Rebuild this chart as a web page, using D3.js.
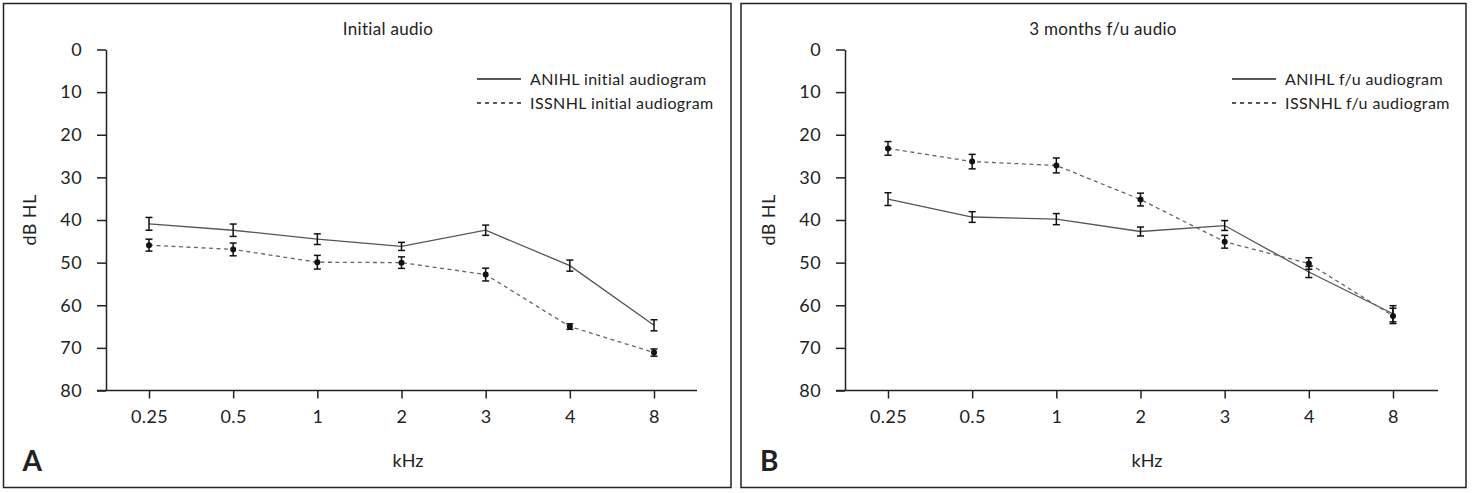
<!DOCTYPE html>
<html lang="en">
<head>
    <meta charset="UTF-8">
    <script src="https://d3js.org/d3.v7.min.js"></script>
    <title>Audiograms</title>
    <style>
        body { margin: 0; background: #fff; }
        text { font-family: Lato, "Open Sans", sans-serif; fill: #222; }
    </style>
</head>
<body>
    <script>
        // frequencies (kHz) and dB HL ticks
        var freqs = ["0.25", "0.5", "1", "2", "3", "4", "8"]
        var dbTicks = [0, 10, 20, 30, 40, 50, 60, 70, 80]

        // panel A - initial audio
        var aniInit = [40.9, 42.4, 44.5, 46.2, 42.4, 50.7, 64.7]
        var aniInitErr = [1.5, 1.45, 1.25, 0.95, 1.2, 1.3, 1.3]
        var issInit = [45.9, 46.9, 49.9, 50.0, 52.8, 65.0, 71.1]
        var issInitErr = [1.4, 1.5, 1.6, 1.35, 1.5, 0.65, 0.85]

        // panel B - 3 months f/u
        var aniFu = [35.1, 39.3, 39.8, 42.7, 41.3, 52.2, 62.0]
        var aniFuErr = [1.5, 1.25, 1.3, 1.05, 1.15, 1.3, 1.9]
        var issFu = [23.2, 26.3, 27.2, 35.2, 45.1, 50.2, 62.5]
        var issFuErr = [1.6, 1.7, 1.75, 1.5, 1.5, 1.35, 1.8]

        var svg = d3.select("body")
            .append("svg")
            .attr("width", 1473)
            .attr("height", 493)

        var panels = [
            {
                left: 3.5, right: 731, axisX: 106, x0: 97, x1: 697, first: 149, last: 654,
                title: "Initial audio", titleX: 388, letter: "A", kHzX: 408, dbX: 30,
                ani: aniInit, aniErr: aniInitErr, iss: issInit, issErr: issInitErr,
                legA: "ANIHL initial audiogram", legB: "ISSNHL initial audiogram", legX: 477
            },
            {
                left: 741, right: 1466, axisX: 845, x0: 836, x1: 1438, first: 888, last: 1393,
                title: "3 months f/u audio", titleX: 1103, letter: "B", kHzX: 1147, dbX: 769,
                ani: aniFu, aniErr: aniFuErr, iss: issFu, issErr: issFuErr,
                legA: "ANIHL f/u audiogram", legB: "ISSNHL f/u audiogram", legX: 1232
            }
        ]

        panels.forEach(function (p) {
            var g = svg.append("g")

            // border
            g.append("rect")
                .attr("x", p.left)
                .attr("y", 3.5)
                .attr("width", p.right - p.left)
                .attr("height", 484)
                .attr("fill", "none")
                .attr("stroke", "#222")
                .attr("stroke-width", 1.5)

            var x = d3.scalePoint()
                .domain(freqs)
                .range([p.first, p.last])
            var y = d3.scaleLinear()
                .domain([0, 80])
                .range([49.5, 390.5])

            // y axis
            var yAxis = g.append("g")
                .attr("transform", "translate(" + p.axisX + ",0)")
                .call(d3.axisLeft(y).tickValues(dbTicks).tickSize(9).tickPadding(15).tickSizeOuter(0))
            yAxis.selectAll("text").attr("font-size", "18px").attr("font-family", "Lato").attr("letter-spacing", "0.4px")
            yAxis.selectAll("line, path").attr("stroke", "#222").attr("stroke-width", 1.5)

            // x axis
            var xAxis = g.append("g")
                .attr("transform", "translate(0," + y(80) + ")")
                .call(d3.axisBottom(x).tickSize(8).tickPadding(12).tickSizeOuter(0))
            xAxis.select(".domain").remove()
            xAxis.selectAll("text").attr("font-size", "18px").attr("font-family", "Lato").attr("letter-spacing", "0.4px")
            xAxis.selectAll("line").attr("stroke", "#222").attr("stroke-width", 1.5)
            g.append("line")
                .attr("x1", p.x0).attr("x2", p.x1)
                .attr("y1", y(80)).attr("y2", y(80))
                .attr("stroke", "#222")
                .attr("stroke-width", 1.5)

            // titles
            g.append("text")
                .attr("x", p.titleX).attr("y", 35)
                .attr("text-anchor", "middle")
                .attr("font-size", "17px")
                .attr("letter-spacing", "0.3px")
                .text(p.title)
            g.append("text")
                .attr("x", p.kHzX).attr("y", 467)
                .attr("text-anchor", "middle")
                .attr("font-size", "18px")
                .text("kHz")
            g.append("text")
                .attr("transform", "translate(" + (p.dbX + 6) + "," + y(40) + ") rotate(-90)")
                .attr("text-anchor", "middle")
                .attr("font-size", "18px")
                .attr("letter-spacing", "0.4px")
                .text("dB HL")
            g.append("text")
                .attr("x", p.left + 19).attr("y", 471)
                .attr("font-family", "Liberation Sans, Arial, sans-serif")
                .attr("font-weight", "bold")
                .attr("font-size", "28px")
                .text(p.letter)

            // lines
            var line = d3.line()
                .x(function (d, i) { return x(freqs[i]) })
                .y(function (d) { return y(d) })

            g.append("path")
                .attr("d", line(p.ani))
                .attr("fill", "none")
                .attr("stroke", "#555")
                .attr("stroke-width", 1.3)
            g.append("path")
                .attr("d", line(p.iss))
                .attr("fill", "none")
                .attr("stroke", "#666")
                .attr("stroke-width", 1.3)
                .attr("stroke-dasharray", "4,3.5")

            // error bars
            function errBars(vals, errs) {
                var eb = g.append("g")
                    .selectAll("g")
                    .data(vals)
                    .enter()
                    .append("g")
                    .attr("stroke", "#111")
                    .attr("stroke-width", 1.5)
                eb.append("line")
                    .attr("x1", function (d, i) { return x(freqs[i]) })
                    .attr("x2", function (d, i) { return x(freqs[i]) })
                    .attr("y1", function (d, i) { return y(d - errs[i]) })
                    .attr("y2", function (d, i) { return y(d + errs[i]) })
                eb.append("line")
                    .attr("x1", function (d, i) { return x(freqs[i]) - 3.5 })
                    .attr("x2", function (d, i) { return x(freqs[i]) + 3.5 })
                    .attr("y1", function (d, i) { return y(d - errs[i]) })
                    .attr("y2", function (d, i) { return y(d - errs[i]) })
                eb.append("line")
                    .attr("x1", function (d, i) { return x(freqs[i]) - 3.5 })
                    .attr("x2", function (d, i) { return x(freqs[i]) + 3.5 })
                    .attr("y1", function (d, i) { return y(d + errs[i]) })
                    .attr("y2", function (d, i) { return y(d + errs[i]) })
            }
            errBars(p.ani, p.aniErr)
            errBars(p.iss, p.issErr)

            g.append("g")
                .selectAll("circle")
                .data(p.iss)
                .enter()
                .append("circle")
                .attr("cx", function (d, i) { return x(freqs[i]) })
                .attr("cy", function (d) { return y(d) })
                .attr("r", 3)
                .attr("fill", "#111")

            // legend
            g.append("line")
                .attr("x1", p.legX).attr("x2", p.legX + 44)
                .attr("y1", 79).attr("y2", 79)
                .attr("stroke", "#222").attr("stroke-width", 1.3)
            g.append("line")
                .attr("x1", p.legX).attr("x2", p.legX + 44)
                .attr("y1", 103).attr("y2", 103)
                .attr("stroke", "#222").attr("stroke-width", 1.3)
                .attr("stroke-dasharray", "4,4")
            g.append("text")
                .attr("x", p.legX + 53).attr("y", 85)
                .attr("font-size", "16px")
                .attr("letter-spacing", "0.4px")
                .text(p.legA)
            g.append("text")
                .attr("x", p.legX + 53).attr("y", 109)
                .attr("font-size", "16px")
                .attr("letter-spacing", "0.4px")
                .text(p.legB)
        })
    </script>
</body>
</html>
